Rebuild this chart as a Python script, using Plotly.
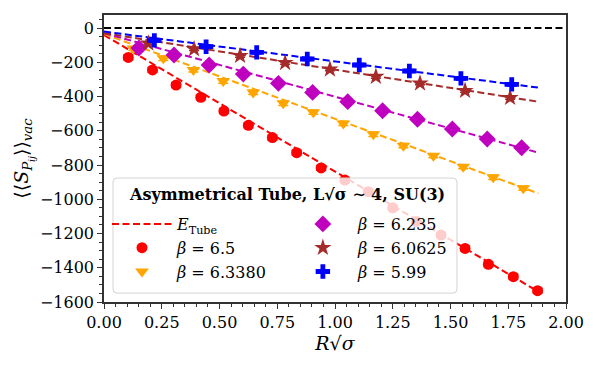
import numpy as np
import plotly.graph_objects as go

# --- data ---
r_65 = [0.105, 0.21, 0.312, 0.419, 0.519, 0.625, 0.729, 0.834, 0.94, 1.043,
        1.144, 1.25, 1.352, 1.459, 1.563, 1.664, 1.772, 1.877]
s_65 = [-172, -245, -333, -405, -485, -568, -640, -728, -817, -888,
        -956, -1050, -1130, -1209, -1287, -1380, -1452, -1534]
e_65 = [14] * len(r_65)

r_6338 = [0.127, 0.257, 0.387, 0.516, 0.646, 0.776, 0.906, 1.036, 1.166,
          1.296, 1.426, 1.555, 1.685, 1.815]
s_6338 = [-120, -177, -245, -310, -376, -440, -492, -557, -621,
          -687, -746, -810, -872, -936]
e_6338 = [12] * len(r_6338)

r_6235 = [0.151, 0.303, 0.455, 0.603, 0.755, 0.903, 1.055, 1.206, 1.357,
          1.508, 1.659, 1.808]
s_6235 = [-117, -158, -216, -269, -323, -376, -430, -483, -533,
          -590, -648, -699]
e_6235 = [10] * len(r_6235)

r_60625 = [0.192, 0.39, 0.589, 0.784, 0.978, 1.177, 1.368, 1.563, 1.758]
s_60625 = [-90, -123, -162, -203, -241, -284, -323, -366, -407]
e_60625 = [9] * len(r_60625)

r_599 = [0.218, 0.442, 0.661, 0.88, 1.105, 1.322, 1.545, 1.765]
s_599 = [-72, -109, -142, -181, -216, -251, -294, -329]
e_599 = [9] * len(r_599)

# linear fit (E_Tube) per beta: intercept, slope
fit_a = {"6.5": -41, "6.3380": -35, "6.235": -30, "6.0625": -30, "5.99": -21}
fit_b = {"6.5": -797, "6.3380": -495, "6.235": -371, "6.0625": -213, "5.99": -174}
fit_rmax = 1.88

series = [
    # (beta, r, s, err, colour, symbol, size, legend, rank)
    ("6.5", r_65, s_65, e_65, "red", "circle", 11, "legend", 2),
    ("6.3380", r_6338, s_6338, e_6338, "orange", "triangle-down", 12, "legend", 3),
    ("6.235", r_6235, s_6235, e_6235, "#BF00BF", "diamond", 13, "legend2", 1),
    ("6.0625", r_60625, s_60625, e_60625, "brown", "star", 13, "legend2", 2),
    ("5.99", r_599, s_599, e_599, "blue", "cross", 12, "legend2", 3),
]

FONT = "DejaVu Serif"
DASH = "7px,3.5px"
fig = go.Figure()

# zero line
fig.add_trace(go.Scatter(x=[0, 2], y=[0, 0], mode="lines",
                         line=dict(color="black", dash=DASH, width=2),
                         showlegend=False, hoverinfo="skip"))

rr = np.linspace(0, fit_rmax, 50)
for i, (beta, r, s, e, col, sym, sz, lg, rk) in enumerate(series):
    fig.add_trace(go.Scatter(
        x=rr, y=fit_a[beta] + fit_b[beta] * rr, mode="lines",
        line=dict(color=col, dash=DASH, width=2),
        name="<i>E</i><sub>Tube</sub>", showlegend=(i == 0), legend="legend",
        legendrank=1, hoverinfo="skip",
    ))

for beta, r, s, e, col, sym, sz, lg, rk in series:
    fig.add_trace(go.Scatter(
        x=r, y=s, mode="markers", name=f"<i>β</i> = {beta}",
        marker=dict(color=col, symbol=sym, size=sz, line=dict(width=0)),
        error_y=dict(type="data", array=e, color=col, thickness=1.5, width=5),
        legend=lg, legendrank=rk,
    ))

# legend frame (semi-transparent, drawn over the data)
x0, x1, y0, y1 = 0.0195, 0.764, 0.031, 0.432
rx, ry = 4 / 462, 4 / 287
path = (f"M{x0+rx},{y0} L{x1-rx},{y0} Q{x1},{y0} {x1},{y0+ry} "
        f"L{x1},{y1-ry} Q{x1},{y1} {x1-rx},{y1} L{x0+rx},{y1} "
        f"Q{x0},{y1} {x0},{y1-ry} L{x0},{y0+ry} Q{x0},{y0} {x0+rx},{y0} Z")
fig.add_shape(type="path", path=path, xref="paper", yref="paper", layer="above",
              fillcolor="rgba(255,255,255,0.8)", line=dict(color="#d3d3d3", width=1))

fig.add_annotation(text="<b>Asymmetrical Tube, L√σ ∼ 4, SU(3)</b>",
                   x=0.396, y=0.373, xref="paper", yref="paper",
                   xanchor="center", yanchor="middle", showarrow=False,
                   font=dict(family=FONT, size=16, color="black"))

leg_common = dict(bgcolor="rgba(0,0,0,0)", borderwidth=0, itemwidth=60,
                  xanchor="left", yanchor="top", font=dict(family=FONT, size=16),
                  tracegroupgap=0)

# page body adds an 8px offset, so the margins are shifted up/left by 8px
fig.update_layout(
    width=600, height=370,
    margin=dict(l=96, r=42, t=7, b=76, autoexpand=False),
    paper_bgcolor="white", plot_bgcolor="white",
    font=dict(family=FONT, size=16, color="black"),
    legend=dict(x=0.0065, y=0.331, **leg_common),
    legend2=dict(x=0.398, y=0.331, **leg_common),
)
fig.update_xaxes(
    range=[0, 2], dtick=0.25, tickformat=".2f", ticks="outside", ticklen=5,
    showgrid=False, zeroline=False, showline=True, linecolor="#333", linewidth=1.5,
    mirror=True, tickcolor="#333", automargin=False,
    minor=dict(dtick=0.05, ticks="outside", ticklen=3, tickcolor="#333"),
    title=dict(text="<i>R</i>√<i>σ</i>", standoff=4),
)
fig.update_yaxes(
    range=[-1600, 76], dtick=200, ticks="outside", ticklen=5,
    showgrid=False, zeroline=False, showline=True, linecolor="#333", linewidth=1.5,
    mirror=True, tickcolor="#333", automargin=False,
    minor=dict(dtick=50, ticks="outside", ticklen=3, tickcolor="#333"),
    title=dict(text="⟨⟨<i>S</i><sub><i>P</i><sub><i>ij</i></sub></sub>⟩⟩<sub><i>vac</i></sub>",
               standoff=6),
)

fig.write_html("out.html")
